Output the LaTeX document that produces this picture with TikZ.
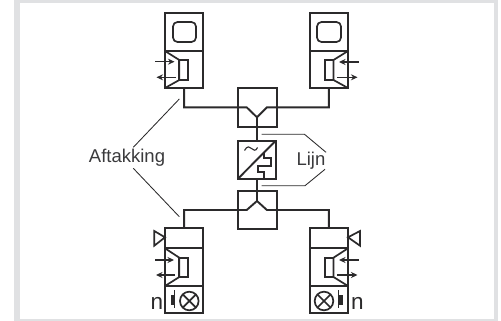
\documentclass[tikz,border=0pt]{standalone}
\usepackage{fontspec}
\setmainfont{Liberation Sans}
\definecolor{ink}{HTML}{2B2A2B}
\definecolor{band}{HTML}{E0E1E3}
\definecolor{txt}{HTML}{3A3A3C}
\tikzset{
  bx/.style={draw=ink,line width=1.9pt,inner sep=0pt,outer sep=0pt,rectangle},
  wire/.style={draw=ink,line width=1.9pt,line join=miter},
  sym/.style={draw=ink,line width=1.7pt,line join=miter},
  thin line/.style={draw=ink,line width=0.85pt},
  flow/.style={draw=ink,line width=1.5pt,-{Stealth[length=6.5pt,width=6pt]}},
  lbl/.style={inner sep=0pt,anchor=base,text=txt,font=\fontsize{18.5}{20}\selectfont},
  nlbl/.style={inner sep=0pt,anchor=base,text=ink,font=\fontsize{22.5}{24}\selectfont}
}
\usetikzlibrary{arrows.meta}
\begin{document}
\begin{tikzpicture}[x=1pt,y=-1pt]
\useasboundingbox (0,0) rectangle (501,321);
\fill[band] (14,0) rectangle (498,321);
\fill[white] (20,3) rectangle (493.5,319);
% boxes
\node[bx,minimum width=38.3pt,minimum height=75.3pt] (tl) at (184.15,50.35) {};
\node[bx,minimum width=38.3pt,minimum height=75.3pt] (tr) at (328.8,50.35) {};
\node[bx,minimum width=38.3pt,minimum height=85.6pt] (ll) at (184.15,270.5) {};
\node[bx,minimum width=38.3pt,minimum height=85.6pt] (lr) at (328.8,270.5) {};
\node[bx,minimum width=39pt,minimum height=38.7pt] (teeT) at (257.2,107.35) {};
\node[bx,minimum width=39pt,minimum height=38.7pt] (teeB) at (257.2,210) {};
\node[bx,minimum width=38pt,minimum height=38.3pt] (conv) at (256.7,159.85) {};
% connectors
\coordinate (yT) at (257,117.3);
\coordinate (yB) at (257,201);
\draw[wire] (tl.south) |- (teeT.west) -- (246.7,107.35) -- (yT) -- (266.9,107.35) -- (teeT.east) -| (tr.south);
\draw[wire] (yT) -- (yT |- conv.north);
\draw[wire] (yB |- conv.south) -- (yB);
\draw[wire] (ll.north) |- (teeB.west) -- (246.7,210) -- (yB) -- (266.9,210) -- (teeB.east) -| (lr.north);
% dividers
\draw[wire] (165,51) -- (203.3,51);
\draw[wire] (309.6,51) -- (348,51);
\draw[wire] (165,248.3) -- (203.3,248.3);
\draw[wire] (165,286) -- (203.3,286);
\draw[wire] (309.6,248.3) -- (348,248.3);
\draw[wire] (309.6,286) -- (348,286);
% screens
\draw[sym,rounded corners=4.5pt] (173,22) rectangle (196,42);
\draw[sym,rounded corners=4.5pt] (317,22) rectangle (341,42);
% horns top
\draw[sym] (165,51) -- (179.3,60) -- (179.3,80) -- (165,88);
\draw[sym] (179.3,60) rectangle (188.3,79.7);
\draw[sym] (348,51) -- (333.5,60) -- (333.5,80) -- (348,88);
\draw[sym] (325,60) rectangle (333.5,79.7);
\draw[flow] (155,61.7) -- (174.5,61.7);
\draw[flow] (176,77.3) -- (156.5,77.3);
\draw[flow] (358.5,62) -- (339,62);
\draw[flow] (337.3,77.3) -- (357.5,77.3);
% horns bottom
\draw[sym] (165,248.3) -- (179.3,257.7) -- (179.3,277) -- (165,286);
\draw[sym] (179.3,257.7) rectangle (188.3,277);
\draw[sym] (348,248.3) -- (333.5,257.7) -- (333.5,277) -- (348,286);
\draw[sym] (325,257.7) rectangle (333.5,277);
\draw[flow] (155,260) -- (174,260);
\draw[flow] (175,275) -- (156,275);
\draw[flow] (358.5,260) -- (339,260);
\draw[flow] (337.3,275) -- (357.5,275);
% horn triangles
\draw[sym] (165,237.3) -- (154.3,231) -- (154.3,245.7) -- cycle;
\draw[sym] (348,237.3) -- (360,231) -- (360,245.7) -- cycle;
% lamps
\draw[sym] (189.3,301) circle (9.3);
\draw[sym] (182.7,294.4) -- (195.9,307.6) (182.7,307.6) -- (195.9,294.4);
\draw[sym] (324,301) circle (9.3);
\draw[sym] (317.4,294.4) -- (330.6,307.6) (317.4,307.6) -- (330.6,294.4);
% push buttons
\fill[ink] (170.5,295) rectangle (174.7,304.5);
\draw[ink,line width=1.1pt] (174.7,290) -- (174.7,308);
\fill[ink] (338.3,295) rectangle (342.8,304.5);
\draw[ink,line width=1.1pt] (338.3,290) -- (338.3,308);
% converter interior
\draw[wire] (conv.south west) -- (conv.north east);
\draw[sym] (264,152.3) -- (264,158.3) -- (270.7,158.3) -- (270.7,165.7) -- (258.3,165.7) -- (258.3,171.7) -- (264,171.7) -- (264,179);
\draw[ink,line width=1.1pt] (244.5,150.5) .. controls (247,145.5) and (250,146.5) .. (251.5,148.5) .. controls (253,150.5) and (256,151.5) .. (257.5,147.5);
% labels
\node[lbl] (aft) at (127,162.7) {Aftakking};
\node[lbl] (lijn) at (311,165.7) {Lijn};
\node[nlbl] (nl) at (157,309) {n};
\node[nlbl] (nr) at (357.5,309) {n};
% leaders
\coordinate (a1) at (133.3,147.3);
\coordinate (a2) at (133.3,168.3);
\coordinate (a1e) at (179.3,99);
\coordinate (a2e) at (179.3,216.7);
\draw[thin line] (a1) -- (a1e);
\draw[thin line] (a2) -- (a2e);
\coordinate (l1s) at (261.7,134.3);
\coordinate (l1m) at (304.5,134.3);
\coordinate (l1e) at (326,152.3);
\coordinate (l2s) at (261.7,185.7);
\coordinate (l2m) at (305,185.7);
\coordinate (l2e) at (325,169.3);
\draw[thin line] (l1s) -- (l1m) -- (l1e);
\draw[thin line] (l2s) -- (l2m) -- (l2e);
\end{tikzpicture}
\end{document}
